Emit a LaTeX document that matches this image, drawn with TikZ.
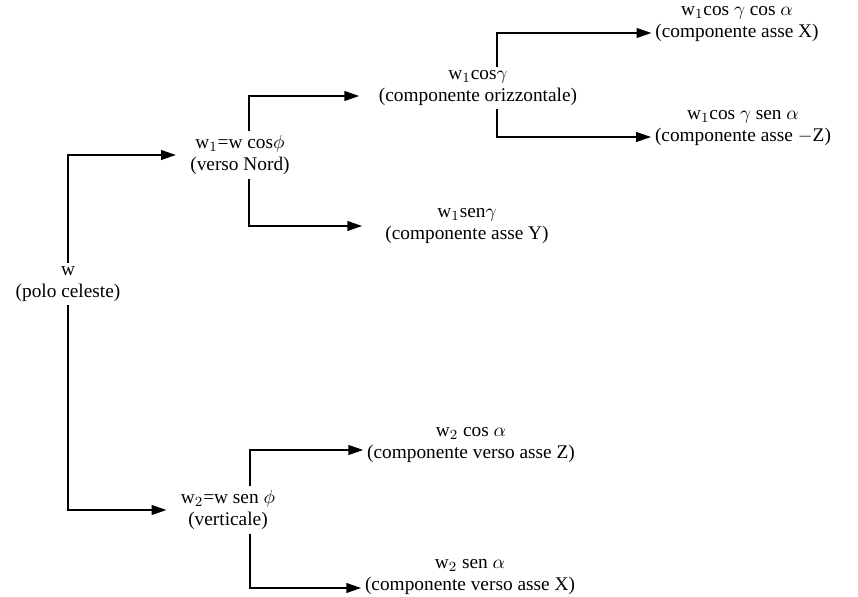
\documentclass[tikz,border=0pt]{standalone}
\usepackage{fontspec}
\setmainfont{Liberation Serif}
\usetikzlibrary{arrows.meta}

\begin{document}
\begin{tikzpicture}
    \tikzset{every node/.style={align=center,inner sep=2pt,font=\fontsize{11}{12.5}\selectfont},
    branch/.style={line width=1.1pt,-{Triangle[length=8.5pt,width=5.5pt]}}}
    \useasboundingbox (0,0) rectangle (17.16,11.94);
    \node (W) at (1.36,6.26) {w\\(polo celeste)};
    \node (W1) at (4.8,8.84) {w$_1$=w cos$\phi$\\(verso Nord)};
    \node (W2) at (4.56,1.74) {w$_2$=w sen $\phi$\\(verticale)};
    \node (W1c) at (9.56,10.18) {w$_1$cos$\gamma$\\(componente orizzontale)};
    \node (W1s) at (9.34,7.42) {w$_1$sen$\gamma$\\(componente asse Y)};
    \node (X1) at (14.74,11.46) {w$_1$cos $\gamma$ cos $\alpha$\\(componente asse X)};
    \node (Z1) at (14.86,9.38) {w$_1$cos $\gamma$ sen $\alpha$\\(componente asse $-$Z)};
    \node (Z2) at (9.42,3.04) {w$_2$ cos $\alpha$\\(componente verso asse Z)};
    \node (X2) at (9.4,0.4) {w$_2$ sen $\alpha$\\(componente verso asse X)};
    \draw[branch,shorten >=6pt] (W.north) |- (W1.west);
    \draw[branch,shorten >=6pt] (W.south) |- (W2.west);
    \draw[branch,shorten >=9pt] ([xshift=0.18cm]W1.north) |- ([yshift=-0.16cm]W1c.west);
    \draw[branch,shorten >=11pt] ([xshift=0.18cm]W1.south) |- (W1s.west);
    \draw[branch] ([xshift=0.38cm]W1c.north) |- ([yshift=-0.18cm]X1.west);
    \draw[branch] ([xshift=0.38cm]W1c.south) |- ([yshift=-0.18cm]Z1.west);
    \draw[branch] ([xshift=0.44cm]W2.north) |- ([yshift=-0.1cm]Z2.west);
    \draw[branch] ([xshift=0.44cm]W2.south) |- ([yshift=-0.22cm]X2.west);
\end{tikzpicture}
\end{document}
